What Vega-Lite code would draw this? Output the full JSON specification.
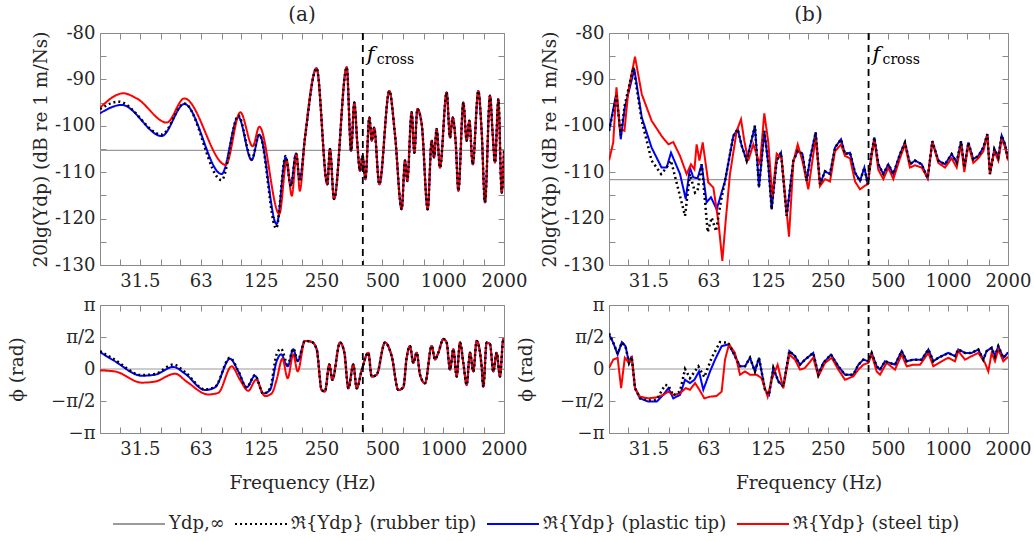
{
"$schema": "https://vega.github.io/schema/vega-lite/v6.json",
"padding": {"left": 7, "top": 4, "right": 2, "bottom": 2},
"config": {
  "font": "DejaVu Serif",
  "view": {"stroke": "#8a8a8a", "strokeWidth": 1},
  "axis": {"grid": false, "domain": false, "tickColor": "#8a8a8a", "tickWidth": 1, "tickSize": -6, "labelFont": "DejaVu Serif", "titleFont": "DejaVu Serif", "labelFontSize": 18, "labelColor": "#262626", "titleFontSize": 18.5, "titleColor": "#262626", "titleFontWeight": "normal", "labelFlush": false, "labelOverlap": false, "labelBound": false, "labelPadding": 13},
  "legend": {"labelFont": "DejaVu Serif", "labelFontSize": 18, "labelColor": "#262626", "labelLimit": 400, "symbolType": "stroke", "symbolSize": 2700, "symbolStrokeWidth": 2, "columnPadding": 6, "labelOffset": 3},
  "title": {"font": "DejaVu Serif", "fontSize": 20, "fontWeight": "normal", "color": "#262626", "offset": -1},
  "text": {"font": "DejaVu Serif"}
},
"datasets": {
  "hl": [{"p": "a", "v": -105.3}, {"p": "b", "v": -111.6}],
  "zero": [{"v": 0}],
  "fc": [{"f": 400, "v": -84.8}],
  "mag": [
    {"p":"a","s":"plastic","f":20,"v":-97.3},{"p":"a","s":"plastic","f":25.6,"v":-95.5},{"p":"a","s":"plastic","f":40.4,"v":-102.2},{"p":"a","s":"plastic","f":52.3,"v":-95.3},{"p":"a","s":"plastic","f":80,"v":-110.4},{"p":"a","s":"plastic","f":96.8,"v":-98.1},{"p":"a","s":"plastic","f":112.7,"v":-107.4},{"p":"a","s":"plastic","f":123,"v":-101.9},{"p":"a","s":"plastic","f":149.8,"v":-121.2},{"p":"a","s":"plastic","f":166,"v":-106.8},{"p":"a","s":"plastic","f":176,"v":-112.9},{"p":"a","s":"plastic","f":186.8,"v":-106},{"p":"a","s":"plastic","f":195,"v":-111.5},
    {"p":"a","s":"steel","f":20,"v":-96.1},{"p":"a","s":"steel","f":26.1,"v":-93},{"p":"a","s":"steel","f":30.4,"v":-94.1},{"p":"a","s":"steel","f":42.8,"v":-99.3},{"p":"a","s":"steel","f":52.3,"v":-94.1},{"p":"a","s":"steel","f":83.8,"v":-108.4},{"p":"a","s":"steel","f":99,"v":-97.1},{"p":"a","s":"steel","f":114,"v":-104.4},{"p":"a","s":"steel","f":123,"v":-100.2},{"p":"a","s":"steel","f":154.5,"v":-119},{"p":"a","s":"steel","f":168,"v":-107.4},{"p":"a","s":"steel","f":178,"v":-115.1},{"p":"a","s":"steel","f":188,"v":-106.1},{"p":"a","s":"steel","f":195,"v":-114},
    {"p":"a","s":"rubber","f":20,"v":-96.4},{"p":"a","s":"rubber","f":24.7,"v":-94.8},{"p":"a","s":"rubber","f":40.4,"v":-101.9},{"p":"a","s":"rubber","f":52.3,"v":-95.2},{"p":"a","s":"rubber","f":80,"v":-111.7},{"p":"a","s":"rubber","f":96.8,"v":-97.8},{"p":"a","s":"rubber","f":112.7,"v":-107.2},{"p":"a","s":"rubber","f":123,"v":-101.9},{"p":"a","s":"rubber","f":149,"v":-122.1},{"p":"a","s":"rubber","f":166,"v":-106.5},{"p":"a","s":"rubber","f":176,"v":-113},{"p":"a","s":"rubber","f":186.8,"v":-106},{"p":"a","s":"rubber","f":195,"v":-112},
    {"p":"a","s":"all","f":207,"v":-102.5},{"p":"a","s":"all","f":236,"v":-87.6},{"p":"a","s":"all","f":267,"v":-112.6},{"p":"a","s":"all","f":275,"v":-105},{"p":"a","s":"all","f":288,"v":-115.8},{"p":"a","s":"all","f":333,"v":-87.4},{"p":"a","s":"all","f":350,"v":-105.4},{"p":"a","s":"all","f":363,"v":-95},{"p":"a","s":"all","f":376,"v":-104},{"p":"a","s":"all","f":387,"v":-109.7},{"p":"a","s":"all","f":399,"v":-106.5},{"p":"a","s":"all","f":412,"v":-111.5},{"p":"a","s":"all","f":431,"v":-98.2},{"p":"a","s":"all","f":443,"v":-103.2},{"p":"a","s":"all","f":455,"v":-100.4},{"p":"a","s":"all","f":483,"v":-112.6},{"p":"a","s":"all","f":541,"v":-92.5},{"p":"a","s":"all","f":577,"v":-101.8},{"p":"a","s":"all","f":623,"v":-118},{"p":"a","s":"all","f":647,"v":-107.5},{"p":"a","s":"all","f":664,"v":-111.9},{"p":"a","s":"all","f":698,"v":-97.1},{"p":"a","s":"all","f":720,"v":-105.8},{"p":"a","s":"all","f":745,"v":-96.4},{"p":"a","s":"all","f":783,"v":-99.7},{"p":"a","s":"all","f":838,"v":-118},{"p":"a","s":"all","f":877,"v":-103.2},{"p":"a","s":"all","f":901,"v":-106.8},{"p":"a","s":"all","f":928,"v":-100.7},{"p":"a","s":"all","f":964,"v":-109},{"p":"a","s":"all","f":1040,"v":-92.8},{"p":"a","s":"all","f":1081,"v":-102.5},{"p":"a","s":"all","f":1114,"v":-98.2},{"p":"a","s":"all","f":1153,"v":-103.6},{"p":"a","s":"all","f":1189,"v":-114},{"p":"a","s":"all","f":1258,"v":-95},{"p":"a","s":"all","f":1307,"v":-103.2},{"p":"a","s":"all","f":1347,"v":-98.9},{"p":"a","s":"all","f":1400,"v":-108.3},{"p":"a","s":"all","f":1492,"v":-92.5},{"p":"a","s":"all","f":1550,"v":-101.1},{"p":"a","s":"all","f":1610,"v":-116.5},{"p":"a","s":"all","f":1705,"v":-93.5},{"p":"a","s":"all","f":1758,"v":-101.8},{"p":"a","s":"all","f":1805,"v":-107.9},{"p":"a","s":"all","f":1876,"v":-94.3},{"p":"a","s":"all","f":1948,"v":-114.4},{"p":"a","s":"all","f":2000,"v":-105.4},
    {"p":"b","s":"plastic","f":20,"v":-101.1},{"p":"b","s":"plastic","f":21.8,"v":-92.8},{"p":"b","s":"plastic","f":22.9,"v":-102.9},{"p":"b","s":"plastic","f":24,"v":-96.1},{"p":"b","s":"plastic","f":26.8,"v":-87.8},{"p":"b","s":"plastic","f":29.2,"v":-98.2},{"p":"b","s":"plastic","f":32.7,"v":-104.7},{"p":"b","s":"plastic","f":36.7,"v":-109},{"p":"b","s":"plastic","f":38.9,"v":-109},{"p":"b","s":"plastic","f":40.9,"v":-105.8},{"p":"b","s":"plastic","f":45.4,"v":-110.4},{"p":"b","s":"plastic","f":48.5,"v":-115.8},{"p":"b","s":"plastic","f":50.9,"v":-109},{"p":"b","s":"plastic","f":52.9,"v":-111.1},{"p":"b","s":"plastic","f":55.6,"v":-111.3},{"p":"b","s":"plastic","f":58.3,"v":-108.3},{"p":"b","s":"plastic","f":61.7,"v":-116.5},{"p":"b","s":"plastic","f":64.9,"v":-115.4},{"p":"b","s":"plastic","f":69.3,"v":-118},{"p":"b","s":"plastic","f":76.3,"v":-111.9},
    {"p":"b","s":"rubber","f":20,"v":-101.1},{"p":"b","s":"rubber","f":21.8,"v":-93.5},{"p":"b","s":"rubber","f":22.9,"v":-102},{"p":"b","s":"rubber","f":24,"v":-95.5},{"p":"b","s":"rubber","f":26.5,"v":-87.4},{"p":"b","s":"rubber","f":29.2,"v":-98.9},{"p":"b","s":"rubber","f":32.7,"v":-107.5},{"p":"b","s":"rubber","f":36.5,"v":-110.4},{"p":"b","s":"rubber","f":38.9,"v":-109},{"p":"b","s":"rubber","f":40.9,"v":-107.5},{"p":"b","s":"rubber","f":48.1,"v":-119.4},{"p":"b","s":"rubber","f":50.9,"v":-110.4},{"p":"b","s":"rubber","f":54,"v":-114.4},{"p":"b","s":"rubber","f":55.6,"v":-114},{"p":"b","s":"rubber","f":58.3,"v":-108.3},{"p":"b","s":"rubber","f":62.5,"v":-122.9},{"p":"b","s":"rubber","f":65.4,"v":-119.8},{"p":"b","s":"rubber","f":68.8,"v":-122.7},{"p":"b","s":"rubber","f":72.8,"v":-116.2},{"p":"b","s":"rubber","f":76.3,"v":-111.9},
    {"p":"b","s":"pr","f":84,"v":-102.2},{"p":"b","s":"pr","f":88.3,"v":-100.7},{"p":"b","s":"pr","f":92.5,"v":-104.3},{"p":"b","s":"pr","f":98,"v":-107.5},{"p":"b","s":"pr","f":107.8,"v":-100},{"p":"b","s":"pr","f":112.9,"v":-113.3},{"p":"b","s":"pr","f":120.1,"v":-101.1},{"p":"b","s":"pr","f":125.8,"v":-108.3},{"p":"b","s":"pr","f":130.7,"v":-118},{"p":"b","s":"pr","f":138.5,"v":-107.5},{"p":"b","s":"pr","f":145.6,"v":-105.8},{"p":"b","s":"pr","f":155.5,"v":-119.4},{"p":"b","s":"pr","f":168,"v":-107.5},{"p":"b","s":"pr","f":176.6,"v":-105.4},{"p":"b","s":"pr","f":186.3,"v":-106},{"p":"b","s":"pr","f":195.8,"v":-111.9},{"p":"b","s":"pr","f":203.5,"v":-107.2},{"p":"b","s":"pr","f":217.3,"v":-101.4},{"p":"b","s":"pr","f":228.4,"v":-112.6},{"p":"b","s":"pr","f":241.9,"v":-109.8},{"p":"b","s":"pr","f":256.4,"v":-110.4},{"p":"b","s":"pr","f":271.6,"v":-104.7},{"p":"b","s":"pr","f":291,"v":-102.9},{"p":"b","s":"pr","f":304.8,"v":-106.1},{"p":"b","s":"pr","f":323,"v":-105.8},{"p":"b","s":"pr","f":342.2,"v":-110.1},{"p":"b","s":"pr","f":362.5,"v":-111.9},{"p":"b","s":"pr","f":381,"v":-109},{"p":"b","s":"pr","f":396,"v":-112.6},{"p":"b","s":"pr","f":414.6,"v":-105.8},{"p":"b","s":"pr","f":427.6,"v":-102.5},{"p":"b","s":"pr","f":447.8,"v":-108.3},{"p":"b","s":"pr","f":474.4,"v":-110.4},{"p":"b","s":"pr","f":502.6,"v":-108.3},{"p":"b","s":"pr","f":532.4,"v":-110.4},{"p":"b","s":"pr","f":574.8,"v":-106.1},{"p":"b","s":"pr","f":609,"v":-103.6},{"p":"b","s":"pr","f":645,"v":-108.3},{"p":"b","s":"pr","f":683.6,"v":-107.5},{"p":"b","s":"pr","f":738.6,"v":-108.3},{"p":"b","s":"pr","f":791.4,"v":-111.3},{"p":"b","s":"pr","f":835,"v":-103.3},{"p":"b","s":"pr","f":895,"v":-107.5},{"p":"b","s":"pr","f":966.6,"v":-108.3},{"p":"b","s":"pr","f":1044,"v":-106.1},{"p":"b","s":"pr","f":1106,"v":-107.9},{"p":"b","s":"pr","f":1163,"v":-103.3},{"p":"b","s":"pr","f":1208,"v":-109},{"p":"b","s":"pr","f":1265,"v":-103.6},{"p":"b","s":"pr","f":1340,"v":-107.2},{"p":"b","s":"pr","f":1420,"v":-106.5},{"p":"b","s":"pr","f":1504,"v":-104.7},{"p":"b","s":"pr","f":1576,"v":-101.8},{"p":"b","s":"pr","f":1624,"v":-110.4},{"p":"b","s":"pr","f":1708,"v":-105},{"p":"b","s":"pr","f":1788,"v":-106.8},{"p":"b","s":"pr","f":1859,"v":-102.1},{"p":"b","s":"pr","f":1932,"v":-104},{"p":"b","s":"pr","f":2000,"v":-107.2},
    {"p":"b","s":"steel","f":20,"v":-107.5},{"p":"b","s":"steel","f":21,"v":-103.6},{"p":"b","s":"steel","f":21.8,"v":-91.7},{"p":"b","s":"steel","f":22.7,"v":-100.7},{"p":"b","s":"steel","f":23.9,"v":-101.1},{"p":"b","s":"steel","f":25,"v":-92.5},{"p":"b","s":"steel","f":27,"v":-85.1},{"p":"b","s":"steel","f":29.2,"v":-93.2},{"p":"b","s":"steel","f":32.7,"v":-98.9},{"p":"b","s":"steel","f":36.7,"v":-102.2},{"p":"b","s":"steel","f":39.7,"v":-104},{"p":"b","s":"steel","f":42,"v":-103.5},{"p":"b","s":"steel","f":45.4,"v":-106.5},{"p":"b","s":"steel","f":49,"v":-110.4},{"p":"b","s":"steel","f":51.5,"v":-108.3},{"p":"b","s":"steel","f":53.6,"v":-109.4},{"p":"b","s":"steel","f":55,"v":-104},{"p":"b","s":"steel","f":56.8,"v":-107.5},{"p":"b","s":"steel","f":59,"v":-103.6},{"p":"b","s":"steel","f":62.9,"v":-112.2},{"p":"b","s":"steel","f":66.7,"v":-113.3},{"p":"b","s":"steel","f":70.6,"v":-120.5},{"p":"b","s":"steel","f":74,"v":-129.1},{"p":"b","s":"steel","f":76.9,"v":-120.5},{"p":"b","s":"steel","f":80.8,"v":-110.4},{"p":"b","s":"steel","f":87.3,"v":-101.1},{"p":"b","s":"steel","f":91.8,"v":-98.6},{"p":"b","s":"steel","f":95.3,"v":-103.2},{"p":"b","s":"steel","f":99.8,"v":-107.5},{"p":"b","s":"steel","f":105.8,"v":-104},{"p":"b","s":"steel","f":114.2,"v":-108.3},{"p":"b","s":"steel","f":120.1,"v":-97.3},{"p":"b","s":"steel","f":125.8,"v":-103.6},{"p":"b","s":"steel","f":131.7,"v":-115.4},{"p":"b","s":"steel","f":138.5,"v":-106},{"p":"b","s":"steel","f":146.7,"v":-107},{"p":"b","s":"steel","f":159.7,"v":-123.9},{"p":"b","s":"steel","f":168,"v":-107.7},{"p":"b","s":"steel","f":176.6,"v":-104},{"p":"b","s":"steel","f":186.3,"v":-107.5},{"p":"b","s":"steel","f":199.6,"v":-113.7},{"p":"b","s":"steel","f":217.3,"v":-102.5},{"p":"b","s":"steel","f":228.4,"v":-113},{"p":"b","s":"steel","f":241.9,"v":-111.5},{"p":"b","s":"steel","f":256.4,"v":-112},{"p":"b","s":"steel","f":271.6,"v":-105.5},{"p":"b","s":"steel","f":291,"v":-104},{"p":"b","s":"steel","f":304.8,"v":-106.5},{"p":"b","s":"steel","f":323,"v":-107},{"p":"b","s":"steel","f":342.2,"v":-112},{"p":"b","s":"steel","f":362.5,"v":-113.7},{"p":"b","s":"steel","f":381,"v":-113},{"p":"b","s":"steel","f":396,"v":-112.6},{"p":"b","s":"steel","f":414.6,"v":-106.5},{"p":"b","s":"steel","f":427.6,"v":-103},{"p":"b","s":"steel","f":447.8,"v":-109.5},{"p":"b","s":"steel","f":474.4,"v":-111.5},{"p":"b","s":"steel","f":502.6,"v":-109},{"p":"b","s":"steel","f":532.4,"v":-111.5},{"p":"b","s":"steel","f":574.8,"v":-107},{"p":"b","s":"steel","f":609,"v":-104},{"p":"b","s":"steel","f":645,"v":-109},{"p":"b","s":"steel","f":683.6,"v":-108.5},{"p":"b","s":"steel","f":738.6,"v":-109},{"p":"b","s":"steel","f":791.4,"v":-111.3},{"p":"b","s":"steel","f":835,"v":-103.5},{"p":"b","s":"steel","f":895,"v":-108},{"p":"b","s":"steel","f":966.6,"v":-109},{"p":"b","s":"steel","f":1044,"v":-107},{"p":"b","s":"steel","f":1106,"v":-109},{"p":"b","s":"steel","f":1163,"v":-104},{"p":"b","s":"steel","f":1208,"v":-110},{"p":"b","s":"steel","f":1265,"v":-104},{"p":"b","s":"steel","f":1340,"v":-108},{"p":"b","s":"steel","f":1420,"v":-107},{"p":"b","s":"steel","f":1504,"v":-105.5},{"p":"b","s":"steel","f":1576,"v":-102},{"p":"b","s":"steel","f":1624,"v":-110.4},{"p":"b","s":"steel","f":1708,"v":-105.5},{"p":"b","s":"steel","f":1788,"v":-107.5},{"p":"b","s":"steel","f":1859,"v":-103},{"p":"b","s":"steel","f":1932,"v":-104.5},{"p":"b","s":"steel","f":2000,"v":-107.5}
  ],
  "ph": [
    {"p":"a","s":"plastic","f":20,"v":0.83},{"p":"a","s":"plastic","f":23.7,"v":0.38},{"p":"a","s":"plastic","f":32.2,"v":-0.33},{"p":"a","s":"plastic","f":37.4,"v":-0.28},{"p":"a","s":"plastic","f":46.1,"v":0.1},{"p":"a","s":"plastic","f":52.7,"v":-0.23},{"p":"a","s":"plastic","f":66.2,"v":-1.03},{"p":"a","s":"plastic","f":74.2,"v":-0.9},{"p":"a","s":"plastic","f":88,"v":0.5},{"p":"a","s":"plastic","f":96.8,"v":-0.12},{"p":"a","s":"plastic","f":106.4,"v":-0.9},{"p":"a","s":"plastic","f":117,"v":-0.33},{"p":"a","s":"plastic","f":128.7,"v":-1.2},{"p":"a","s":"plastic","f":138.9,"v":-1.03},{"p":"a","s":"plastic","f":149.8,"v":0.38},{"p":"a","s":"plastic","f":157.5,"v":0.72},{"p":"a","s":"plastic","f":169.9,"v":0.13},{"p":"a","s":"plastic","f":181.1,"v":0.97},{"p":"a","s":"plastic","f":190.3,"v":0.38},
    {"p":"a","s":"steel","f":20,"v":-0.07},{"p":"a","s":"steel","f":23.7,"v":-0.12},{"p":"a","s":"steel","f":32.2,"v":-0.67},{"p":"a","s":"steel","f":37.4,"v":-0.62},{"p":"a","s":"steel","f":47,"v":-0.23},{"p":"a","s":"steel","f":53.7,"v":-0.62},{"p":"a","s":"steel","f":68.7,"v":-1.25},{"p":"a","s":"steel","f":77,"v":-1.17},{"p":"a","s":"steel","f":89.7,"v":0.13},{"p":"a","s":"steel","f":98.6,"v":-0.53},{"p":"a","s":"steel","f":108.4,"v":-1.07},{"p":"a","s":"steel","f":118.4,"v":-0.53},{"p":"a","s":"steel","f":131.1,"v":-1.33},{"p":"a","s":"steel","f":141.6,"v":-1.2},{"p":"a","s":"steel","f":149.8,"v":-0.53},{"p":"a","s":"steel","f":159.9,"v":0.5},{"p":"a","s":"steel","f":169.9,"v":-0.45},{"p":"a","s":"steel","f":181.1,"v":0.72},{"p":"a","s":"steel","f":190.3,"v":-0.12},
    {"p":"a","s":"rubber","f":20,"v":0.88},{"p":"a","s":"rubber","f":23.7,"v":0.45},{"p":"a","s":"rubber","f":32.2,"v":-0.3},{"p":"a","s":"rubber","f":37.4,"v":-0.25},{"p":"a","s":"rubber","f":46.1,"v":0.22},{"p":"a","s":"rubber","f":52.7,"v":-0.15},{"p":"a","s":"rubber","f":66.2,"v":-1},{"p":"a","s":"rubber","f":74.2,"v":-0.88},{"p":"a","s":"rubber","f":88,"v":0.55},{"p":"a","s":"rubber","f":96.8,"v":-0.1},{"p":"a","s":"rubber","f":106.4,"v":-0.9},{"p":"a","s":"rubber","f":117,"v":-0.3},{"p":"a","s":"rubber","f":128.7,"v":-1.22},{"p":"a","s":"rubber","f":138.9,"v":-0.95},{"p":"a","s":"rubber","f":149.8,"v":0.72},{"p":"a","s":"rubber","f":157.5,"v":1.0},{"p":"a","s":"rubber","f":169.9,"v":0.22},{"p":"a","s":"rubber","f":181.1,"v":1.0},{"p":"a","s":"rubber","f":190.3,"v":0.42},
    {"p":"a","s":"all","f":207,"v":1.38},{"p":"a","s":"all","f":223.3,"v":1.33},{"p":"a","s":"all","f":236.4,"v":0.97},{"p":"a","s":"all","f":250.2,"v":-1.03},{"p":"a","s":"all","f":259.9,"v":-1.1},{"p":"a","s":"all","f":273,"v":0.22},{"p":"a","s":"all","f":282.6,"v":-0.53},{"p":"a","s":"all","f":308.4,"v":1.3},{"p":"a","s":"all","f":324.2,"v":0.8},{"p":"a","s":"all","f":339.3,"v":-0.95},{"p":"a","s":"all","f":359,"v":0.22},{"p":"a","s":"all","f":373,"v":-0.95},{"p":"a","s":"all","f":394.8,"v":-0.07},{"p":"a","s":"all","f":426,"v":0.8},{"p":"a","s":"all","f":442.6,"v":-0.37},{"p":"a","s":"all","f":468.5,"v":-0.28},{"p":"a","s":"all","f":515,"v":1.3},{"p":"a","s":"all","f":556,"v":0.63},{"p":"a","s":"all","f":599.7,"v":-1.03},{"p":"a","s":"all","f":634.7,"v":-0.9},{"p":"a","s":"all","f":659.4,"v":0.55},{"p":"a","s":"all","f":684.8,"v":1.13},{"p":"a","s":"all","f":711.5,"v":0.3},{"p":"a","s":"all","f":739,"v":0.8},{"p":"a","s":"all","f":767.8,"v":-0.28},{"p":"a","s":"all","f":813,"v":-0.7},{"p":"a","s":"all","f":877,"v":1.13},{"p":"a","s":"all","f":911,"v":0.47},{"p":"a","s":"all","f":946,"v":0.8},{"p":"a","s":"all","f":1002,"v":1.47},{"p":"a","s":"all","f":1040,"v":1.3},{"p":"a","s":"all","f":1081,"v":-0.03},{"p":"a","s":"all","f":1123,"v":0.97},{"p":"a","s":"all","f":1166,"v":-0.37},{"p":"a","s":"all","f":1211,"v":1.3},{"p":"a","s":"all","f":1258,"v":0.3},{"p":"a","s":"all","f":1307,"v":-0.78},{"p":"a","s":"all","f":1357,"v":0.8},{"p":"a","s":"all","f":1410,"v":-0.12},{"p":"a","s":"all","f":1464,"v":1.38},{"p":"a","s":"all","f":1550,"v":0.13},{"p":"a","s":"all","f":1580,"v":-0.87},{"p":"a","s":"all","f":1641,"v":1.3},{"p":"a","s":"all","f":1705,"v":1.22},{"p":"a","s":"all","f":1771,"v":-0.12},{"p":"a","s":"all","f":1839,"v":0.8},{"p":"a","s":"all","f":1910,"v":-0.37},{"p":"a","s":"all","f":1985,"v":1.47},{"p":"a","s":"all","f":2000,"v":1.4},
    {"p":"b","s":"plastic","f":20,"v":1.7},{"p":"b","s":"plastic","f":21,"v":1.29},{"p":"b","s":"plastic","f":22.1,"v":0.71},{"p":"b","s":"plastic","f":23.2,"v":1.32},{"p":"b","s":"plastic","f":24.2,"v":1.12},{"p":"b","s":"plastic","f":25.2,"v":0.3},{"p":"b","s":"plastic","f":26,"v":0.63},{"p":"b","s":"plastic","f":27,"v":-0.94},{"p":"b","s":"plastic","f":28.6,"v":-1.44},{"p":"b","s":"plastic","f":31.5,"v":-1.6},{"p":"b","s":"plastic","f":34.7,"v":-1.6},{"p":"b","s":"plastic","f":37.4,"v":-1.27},{"p":"b","s":"plastic","f":39.7,"v":-0.94},{"p":"b","s":"plastic","f":42,"v":-1.44},{"p":"b","s":"plastic","f":45.4,"v":-1.27},{"p":"b","s":"plastic","f":48.1,"v":-0.53},{"p":"b","s":"plastic","f":50.9,"v":-0.69},{"p":"b","s":"plastic","f":53.6,"v":-0.53},{"p":"b","s":"plastic","f":56.5,"v":-0.12},{"p":"b","s":"plastic","f":59.4,"v":-1.02},{"p":"b","s":"plastic","f":64.2,"v":-0.12},{"p":"b","s":"plastic","f":68,"v":0.46},{"p":"b","s":"plastic","f":73.4,"v":1.12},{"p":"b","s":"plastic","f":79.3,"v":1.21},{"p":"b","s":"plastic","f":84,"v":0.79},{"p":"b","s":"plastic","f":90.7,"v":0.13},
    {"p":"b","s":"rubber","f":20,"v":1.75},{"p":"b","s":"rubber","f":21,"v":1.3},{"p":"b","s":"rubber","f":22.1,"v":0.75},{"p":"b","s":"rubber","f":23.2,"v":1.3},{"p":"b","s":"rubber","f":24.2,"v":1.1},{"p":"b","s":"rubber","f":25.2,"v":0.3},{"p":"b","s":"rubber","f":26,"v":0.6},{"p":"b","s":"rubber","f":27,"v":-0.94},{"p":"b","s":"rubber","f":28.6,"v":-1.44},{"p":"b","s":"rubber","f":31.5,"v":-1.55},{"p":"b","s":"rubber","f":34.7,"v":-1.5},{"p":"b","s":"rubber","f":38.2,"v":-0.78},{"p":"b","s":"rubber","f":39.7,"v":-0.8},{"p":"b","s":"rubber","f":42,"v":-1.3},{"p":"b","s":"rubber","f":45.4,"v":-1.1},{"p":"b","s":"rubber","f":48.1,"v":0},{"p":"b","s":"rubber","f":50.9,"v":-0.45},{"p":"b","s":"rubber","f":56.1,"v":0.13},{"p":"b","s":"rubber","f":60.1,"v":-0.4},{"p":"b","s":"rubber","f":65.4,"v":0.55},{"p":"b","s":"rubber","f":72,"v":1.32},{"p":"b","s":"rubber","f":79.3,"v":1.29},{"p":"b","s":"rubber","f":84,"v":0.79},{"p":"b","s":"rubber","f":90.7,"v":0.13},
    {"p":"b","s":"pr","f":96.1,"v":0.13},{"p":"b","s":"pr","f":101.8,"v":0.55},{"p":"b","s":"pr","f":107.8,"v":-0.12},{"p":"b","s":"pr","f":112.9,"v":0.55},{"p":"b","s":"pr","f":121.1,"v":-1.02},{"p":"b","s":"pr","f":126.8,"v":-1.27},{"p":"b","s":"pr","f":133.3,"v":0.05},{"p":"b","s":"pr","f":141.2,"v":-0.61},{"p":"b","s":"pr","f":149.5,"v":-0.86},{"p":"b","s":"pr","f":160.3,"v":0.88},{"p":"b","s":"pr","f":171.1,"v":0.63},{"p":"b","s":"pr","f":181.3,"v":0.21},{"p":"b","s":"pr","f":192,"v":0.46},{"p":"b","s":"pr","f":211.3,"v":0.79},{"p":"b","s":"pr","f":224,"v":-0.28},{"p":"b","s":"pr","f":237.3,"v":0.3},{"p":"b","s":"pr","f":259.3,"v":0.71},{"p":"b","s":"pr","f":282.2,"v":0.13},{"p":"b","s":"pr","f":304.8,"v":-0.28},{"p":"b","s":"pr","f":335.5,"v":-0.28},{"p":"b","s":"pr","f":355.6,"v":0.21},{"p":"b","s":"pr","f":376.6,"v":0.46},{"p":"b","s":"pr","f":398.9,"v":0.38},{"p":"b","s":"pr","f":414.6,"v":0.79},{"p":"b","s":"pr","f":439.5,"v":0.13},{"p":"b","s":"pr","f":456.6,"v":-0.03},{"p":"b","s":"pr","f":483.6,"v":0.38},{"p":"b","s":"pr","f":542.8,"v":0.21},{"p":"b","s":"pr","f":586.2,"v":0.88},{"p":"b","s":"pr","f":620.9,"v":0.38},{"p":"b","s":"pr","f":670.7,"v":0.46},{"p":"b","s":"pr","f":738.6,"v":0.46},{"p":"b","s":"pr","f":797.9,"v":0.96},{"p":"b","s":"pr","f":845,"v":0.38},{"p":"b","s":"pr","f":895,"v":0.55},{"p":"b","s":"pr","f":1004,"v":0.79},{"p":"b","s":"pr","f":1085,"v":0.63},{"p":"b","s":"pr","f":1127,"v":0.96},{"p":"b","s":"pr","f":1217,"v":0.79},{"p":"b","s":"pr","f":1315,"v":0.79},{"p":"b","s":"pr","f":1420,"v":0.96},{"p":"b","s":"pr","f":1504,"v":0.46},{"p":"b","s":"pr","f":1563,"v":0.88},{"p":"b","s":"pr","f":1656,"v":1.04},{"p":"b","s":"pr","f":1721,"v":0.63},{"p":"b","s":"pr","f":1788,"v":1.12},{"p":"b","s":"pr","f":1895,"v":0.55},{"p":"b","s":"pr","f":2000,"v":0.8},
    {"p":"b","s":"steel","f":20,"v":0.05},{"p":"b","s":"steel","f":21,"v":0.46},{"p":"b","s":"steel","f":22.1,"v":0.55},{"p":"b","s":"steel","f":23,"v":-0.94},{"p":"b","s":"steel","f":24,"v":0.55},{"p":"b","s":"steel","f":25.2,"v":0.3},{"p":"b","s":"steel","f":26,"v":0.55},{"p":"b","s":"steel","f":27,"v":-0.94},{"p":"b","s":"steel","f":28.6,"v":-1.36},{"p":"b","s":"steel","f":31.5,"v":-1.44},{"p":"b","s":"steel","f":34.7,"v":-1.39},{"p":"b","s":"steel","f":37.4,"v":-1.27},{"p":"b","s":"steel","f":39.7,"v":-1.11},{"p":"b","s":"steel","f":42,"v":-1.27},{"p":"b","s":"steel","f":45.4,"v":-1.19},{"p":"b","s":"steel","f":48.5,"v":-0.94},{"p":"b","s":"steel","f":50.9,"v":-1.02},{"p":"b","s":"steel","f":54,"v":-0.69},{"p":"b","s":"steel","f":56.8,"v":-1.02},{"p":"b","s":"steel","f":60.1,"v":-1.44},{"p":"b","s":"steel","f":64.2,"v":-1.36},{"p":"b","s":"steel","f":69.3,"v":-1.32},{"p":"b","s":"steel","f":73.4,"v":-1.11},{"p":"b","s":"steel","f":76.3,"v":0.46},{"p":"b","s":"steel","f":79.9,"v":1.21},{"p":"b","s":"steel","f":85.6,"v":0.79},{"p":"b","s":"steel","f":90.7,"v":-0.28},{"p":"b","s":"steel","f":96.1,"v":-0.12},{"p":"b","s":"steel","f":101.8,"v":-0.28},{"p":"b","s":"steel","f":109.9,"v":-0.28},{"p":"b","s":"steel","f":116.4,"v":-0.45},{"p":"b","s":"steel","f":124.8,"v":-1.36},{"p":"b","s":"steel","f":130.7,"v":-0.53},{"p":"b","s":"steel","f":140.1,"v":0.21},{"p":"b","s":"steel","f":149.5,"v":-0.94},{"p":"b","s":"steel","f":160.3,"v":0.71},{"p":"b","s":"steel","f":171.1,"v":0.46},{"p":"b","s":"steel","f":181.3,"v":-0.03},{"p":"b","s":"steel","f":192,"v":0.05},{"p":"b","s":"steel","f":211.3,"v":0.55},{"p":"b","s":"steel","f":224,"v":-0.36},{"p":"b","s":"steel","f":241.9,"v":0.3},{"p":"b","s":"steel","f":261.3,"v":0.55},{"p":"b","s":"steel","f":282.2,"v":-0.03},{"p":"b","s":"steel","f":304.8,"v":-0.53},{"p":"b","s":"steel","f":335.5,"v":-0.36},{"p":"b","s":"steel","f":355.6,"v":-0.03},{"p":"b","s":"steel","f":376.6,"v":0.21},{"p":"b","s":"steel","f":398.9,"v":0.3},{"p":"b","s":"steel","f":414.6,"v":0.71},{"p":"b","s":"steel","f":439.5,"v":-0.12},{"p":"b","s":"steel","f":456.6,"v":-0.28},{"p":"b","s":"steel","f":492.9,"v":0.3},{"p":"b","s":"steel","f":542.8,"v":-0.03},{"p":"b","s":"steel","f":586.2,"v":0.71},{"p":"b","s":"steel","f":620.9,"v":0.13},{"p":"b","s":"steel","f":670.7,"v":0.21},{"p":"b","s":"steel","f":724.5,"v":0.21},{"p":"b","s":"steel","f":797.9,"v":0.79},{"p":"b","s":"steel","f":845,"v":0.13},{"p":"b","s":"steel","f":930.4,"v":0.38},{"p":"b","s":"steel","f":1004,"v":0.55},{"p":"b","s":"steel","f":1085,"v":0.38},{"p":"b","s":"steel","f":1127,"v":0.88},{"p":"b","s":"steel","f":1217,"v":0.46},{"p":"b","s":"steel","f":1315,"v":0.63},{"p":"b","s":"steel","f":1420,"v":0.79},{"p":"b","s":"steel","f":1533,"v":0.3},{"p":"b","s":"steel","f":1593,"v":-0.12},{"p":"b","s":"steel","f":1656,"v":0.79},{"p":"b","s":"steel","f":1721,"v":0.38},{"p":"b","s":"steel","f":1788,"v":0.96},{"p":"b","s":"steel","f":1895,"v":0.38},{"p":"b","s":"steel","f":2000,"v":0.6}
  ]
},
"bounds": "flush",
"columns": 2,
"spacing": {"row": 40, "column": 105},
"concat": [
  {"width": 404, "height": 232, "title": "(a)",
   "resolve": {"axis": {"x": "independent", "y": "independent"}},
   "layer": [
    {"data": {"name": "hl"}, "transform": [{"filter": "datum.p=='a'"}], "mark": {"type": "rule", "strokeWidth": 1.2},
     "encoding": {"y": {"field": "v", "type": "quantitative", "scale": {"domain": [-130, -80], "nice": false, "zero": false}, "axis": {"orient": "right", "values": [-130,-125,-120,-115,-110,-105,-100,-95,-90,-85,-80], "labels": false, "title": null}},
      "color": {"datum": "Ydp,∞", "scale": {"domain": ["Ydp,∞", "ℜ{Ydp} (rubber tip)", "ℜ{Ydp} (plastic tip)", "ℜ{Ydp} (steel tip)"], "range": ["#9a9a9a", "#000000", "#0000ff", "#ff0000"]}, "legend": {"title": null, "orient": "none", "direction": "horizontal", "legendX": 12, "legendY": 464}},
      "strokeDash": {"datum": "Ydp,∞", "scale": {"domain": ["Ydp,∞", "ℜ{Ydp} (rubber tip)", "ℜ{Ydp} (plastic tip)", "ℜ{Ydp} (steel tip)"], "range": [[1,0],[2,3],[1,0],[1,0]]}, "legend": {"title": null, "orient": "none", "direction": "horizontal", "legendX": 12, "legendY": 464}}}},
    {"data": {"name": "mag"}, "transform": [{"filter": "datum.p=='a' && (datum.s=='plastic' || datum.s=='all')"}], "mark": {"type": "line", "strokeWidth": 2, "interpolate": "monotone", "clip": true},
     "encoding": {"x": {"field": "f", "type": "quantitative", "scale": {"type": "log", "domain": [20, 2000], "nice": false}, "axis": {"orient": "bottom", "values": [20,25,31.5,40,50,63,80,100,125,160,200,250,315,400,500,630,800,1000,1250,1600,2000], "labelExpr": "(datum.value == 31.5 || datum.value == 63 || datum.value == 125 || datum.value == 250 || datum.value == 500 || datum.value == 1000 || datum.value == 2000) ? '' + datum.value : ''", "title": null}},
      "y": {"field": "v", "type": "quantitative", "scale": {"domain": [-130, -80], "nice": false, "zero": false}, "axis": {"orient": "left", "values": [-130,-125,-120,-115,-110,-105,-100,-95,-90,-85,-80], "labelExpr": "datum.value % 10 === 0 ? '' + datum.value : ''", "title": "20lg(Ydp)  (dB re 1 m/Ns)", "labelPadding": 11, "titlePadding": 4}},
      "color": {"datum": "ℜ{Ydp} (plastic tip)"}, "strokeDash": {"datum": "ℜ{Ydp} (plastic tip)"}}},
    {"data": {"name": "mag"}, "transform": [{"filter": "datum.p=='a' && (datum.s=='steel' || datum.s=='all')"}], "mark": {"type": "line", "strokeWidth": 2, "interpolate": "monotone", "clip": true},
     "encoding": {"x": {"field": "f", "type": "quantitative", "scale": {"type": "log", "domain": [20, 2000], "nice": false}, "axis": null},
      "y": {"field": "v", "type": "quantitative", "axis": null},
      "color": {"datum": "ℜ{Ydp} (steel tip)"}, "strokeDash": {"datum": "ℜ{Ydp} (steel tip)"}}},
    {"data": {"name": "mag"}, "transform": [{"filter": "datum.p=='a' && (datum.s=='rubber' || datum.s=='all')"}], "mark": {"type": "line", "strokeWidth": 2.5, "interpolate": "monotone", "clip": true},
     "encoding": {"x": {"field": "f", "type": "quantitative", "axis": null},
      "y": {"field": "v", "type": "quantitative", "axis": null},
      "color": {"datum": "ℜ{Ydp} (rubber tip)"}, "strokeDash": {"datum": "ℜ{Ydp} (rubber tip)"}}},
    {"data": {"name": "fc"}, "mark": {"type": "rule", "strokeDash": [7, 5], "strokeWidth": 1.8, "color": "#000000"},
     "encoding": {"x": {"field": "f", "type": "quantitative", "axis": {"orient": "top", "values": [20,25,31.5,40,50,63,80,100,125,160,200,250,315,400,500,630,800,1000,1250,1600,2000], "labels": false, "title": null}}}},
    {"data": {"name": "fc"}, "mark": {"type": "text", "text": "f", "fontStyle": "italic", "fontSize": 21, "align": "left", "baseline": "middle", "dx": 4, "color": "#000000"},
     "encoding": {"x": {"field": "f", "type": "quantitative", "axis": null}, "y": {"field": "v", "type": "quantitative", "axis": null}}},
    {"data": {"name": "fc"}, "mark": {"type": "text", "text": "cross", "fontSize": 14, "align": "left", "baseline": "middle", "dx": 14, "dy": 5, "color": "#000000"},
     "encoding": {"x": {"field": "f", "type": "quantitative", "axis": null}, "y": {"field": "v", "type": "quantitative", "axis": null}}}
   ]},
  {"width": 399, "height": 232, "title": "(b)",
   "resolve": {"axis": {"x": "independent", "y": "independent"}},
   "layer": [
    {"data": {"name": "hl"}, "transform": [{"filter": "datum.p=='b'"}], "mark": {"type": "rule", "strokeWidth": 1.2},
     "encoding": {"y": {"field": "v", "type": "quantitative", "scale": {"domain": [-130, -80], "nice": false, "zero": false}, "axis": {"orient": "right", "values": [-130,-125,-120,-115,-110,-105,-100,-95,-90,-85,-80], "labels": false, "title": null}},
      "color": {"datum": "Ydp,∞"}, "strokeDash": {"datum": "Ydp,∞"}}},
    {"data": {"name": "mag"}, "transform": [{"filter": "datum.p=='b' && (datum.s=='plastic' || datum.s=='pr')"}], "mark": {"type": "line", "strokeWidth": 2, "clip": true},
     "encoding": {"x": {"field": "f", "type": "quantitative", "scale": {"type": "log", "domain": [20, 2000], "nice": false}, "axis": {"orient": "bottom", "values": [20,25,31.5,40,50,63,80,100,125,160,200,250,315,400,500,630,800,1000,1250,1600,2000], "labelExpr": "(datum.value == 31.5 || datum.value == 63 || datum.value == 125 || datum.value == 250 || datum.value == 500 || datum.value == 1000 || datum.value == 2000) ? '' + datum.value : ''", "title": null}},
      "y": {"field": "v", "type": "quantitative", "scale": {"domain": [-130, -80], "nice": false, "zero": false}, "axis": {"orient": "left", "values": [-130,-125,-120,-115,-110,-105,-100,-95,-90,-85,-80], "labelExpr": "datum.value % 10 === 0 ? '' + datum.value : ''", "title": "20lg(Ydp)  (dB re 1 m/Ns)", "labelPadding": 11, "titlePadding": 4}},
      "color": {"datum": "ℜ{Ydp} (plastic tip)"}, "strokeDash": {"datum": "ℜ{Ydp} (plastic tip)"}}},
    {"data": {"name": "mag"}, "transform": [{"filter": "datum.p=='b' && datum.s=='steel'"}], "mark": {"type": "line", "strokeWidth": 2, "clip": true},
     "encoding": {"x": {"field": "f", "type": "quantitative", "axis": null}, "y": {"field": "v", "type": "quantitative", "axis": null},
      "color": {"datum": "ℜ{Ydp} (steel tip)"}, "strokeDash": {"datum": "ℜ{Ydp} (steel tip)"}}},
    {"data": {"name": "mag"}, "transform": [{"filter": "datum.p=='b' && (datum.s=='rubber' || datum.s=='pr')"}], "mark": {"type": "line", "strokeWidth": 2.5, "clip": true},
     "encoding": {"x": {"field": "f", "type": "quantitative", "axis": null}, "y": {"field": "v", "type": "quantitative", "axis": null},
      "color": {"datum": "ℜ{Ydp} (rubber tip)"}, "strokeDash": {"datum": "ℜ{Ydp} (rubber tip)"}}},
    {"data": {"name": "fc"}, "mark": {"type": "rule", "strokeDash": [7, 5], "strokeWidth": 1.8, "color": "#000000"},
     "encoding": {"x": {"field": "f", "type": "quantitative", "axis": {"orient": "top", "values": [20,25,31.5,40,50,63,80,100,125,160,200,250,315,400,500,630,800,1000,1250,1600,2000], "labels": false, "title": null}}}},
    {"data": {"name": "fc"}, "mark": {"type": "text", "text": "f", "fontStyle": "italic", "fontSize": 21, "align": "left", "baseline": "middle", "dx": 4, "color": "#000000"},
     "encoding": {"x": {"field": "f", "type": "quantitative", "axis": null}, "y": {"field": "v", "type": "quantitative", "axis": null}}},
    {"data": {"name": "fc"}, "mark": {"type": "text", "text": "cross", "fontSize": 14, "align": "left", "baseline": "middle", "dx": 14, "dy": 5, "color": "#000000"},
     "encoding": {"x": {"field": "f", "type": "quantitative", "axis": null}, "y": {"field": "v", "type": "quantitative", "axis": null}}}
   ]},
  {"width": 404, "height": 128,
   "resolve": {"axis": {"x": "independent", "y": "independent"}},
   "layer": [
    {"data": {"name": "zero"}, "mark": {"type": "rule", "strokeWidth": 1.2},
     "encoding": {"y": {"field": "v", "type": "quantitative", "scale": {"domain": [-3.14159265, 3.14159265], "nice": false, "zero": false}, "axis": {"orient": "right", "values": [-3.14159265,-1.57079633,0,1.57079633,3.14159265], "labels": false, "title": null}},
      "color": {"datum": "Ydp,∞"}, "strokeDash": {"datum": "Ydp,∞"}}},
    {"data": {"name": "ph"}, "transform": [{"filter": "datum.p=='a' && (datum.s=='plastic' || datum.s=='all')"}], "mark": {"type": "line", "strokeWidth": 2, "interpolate": "monotone", "clip": true},
     "encoding": {"x": {"field": "f", "type": "quantitative", "scale": {"type": "log", "domain": [20, 2000], "nice": false}, "axis": {"orient": "bottom", "values": [20,25,31.5,40,50,63,80,100,125,160,200,250,315,400,500,630,800,1000,1250,1600,2000], "labelExpr": "(datum.value == 31.5 || datum.value == 63 || datum.value == 125 || datum.value == 250 || datum.value == 500 || datum.value == 1000 || datum.value == 2000) ? '' + datum.value : ''", "title": "Frequency (Hz)", "titlePadding": 15}},
      "y": {"field": "v", "type": "quantitative", "scale": {"domain": [-3.14159265, 3.14159265], "nice": false, "zero": false}, "axis": {"orient": "left", "values": [-3.14159265,-1.57079633,0,1.57079633,3.14159265], "labelExpr": "datum.value > 3 ? 'π' : datum.value > 1 ? 'π/2' : datum.value > -1 ? '0' : datum.value > -3 ? '−π/2' : '−π'", "title": "ϕ (rad)", "labelPadding": 11, "titlePadding": 24}},
      "color": {"datum": "ℜ{Ydp} (plastic tip)"}, "strokeDash": {"datum": "ℜ{Ydp} (plastic tip)"}}},
    {"data": {"name": "ph"}, "transform": [{"filter": "datum.p=='a' && (datum.s=='steel' || datum.s=='all')"}], "mark": {"type": "line", "strokeWidth": 2, "interpolate": "monotone", "clip": true},
     "encoding": {"x": {"field": "f", "type": "quantitative", "axis": null}, "y": {"field": "v", "type": "quantitative", "axis": null},
      "color": {"datum": "ℜ{Ydp} (steel tip)"}, "strokeDash": {"datum": "ℜ{Ydp} (steel tip)"}}},
    {"data": {"name": "ph"}, "transform": [{"filter": "datum.p=='a' && (datum.s=='rubber' || datum.s=='all')"}], "mark": {"type": "line", "strokeWidth": 2.5, "interpolate": "monotone", "clip": true},
     "encoding": {"x": {"field": "f", "type": "quantitative", "axis": null}, "y": {"field": "v", "type": "quantitative", "axis": null},
      "color": {"datum": "ℜ{Ydp} (rubber tip)"}, "strokeDash": {"datum": "ℜ{Ydp} (rubber tip)"}}},
    {"data": {"name": "fc"}, "mark": {"type": "rule", "strokeDash": [7, 5], "strokeWidth": 1.8, "color": "#000000"},
     "encoding": {"x": {"field": "f", "type": "quantitative", "axis": {"orient": "top", "values": [20,25,31.5,40,50,63,80,100,125,160,200,250,315,400,500,630,800,1000,1250,1600,2000], "labels": false, "title": null}}}}
   ]},
  {"width": 399, "height": 128,
   "resolve": {"axis": {"x": "independent", "y": "independent"}},
   "layer": [
    {"data": {"name": "zero"}, "mark": {"type": "rule", "strokeWidth": 1.2},
     "encoding": {"y": {"field": "v", "type": "quantitative", "scale": {"domain": [-3.14159265, 3.14159265], "nice": false, "zero": false}, "axis": {"orient": "right", "values": [-3.14159265,-1.57079633,0,1.57079633,3.14159265], "labels": false, "title": null}},
      "color": {"datum": "Ydp,∞"}, "strokeDash": {"datum": "Ydp,∞"}}},
    {"data": {"name": "ph"}, "transform": [{"filter": "datum.p=='b' && (datum.s=='plastic' || datum.s=='pr')"}], "mark": {"type": "line", "strokeWidth": 2, "clip": true},
     "encoding": {"x": {"field": "f", "type": "quantitative", "scale": {"type": "log", "domain": [20, 2000], "nice": false}, "axis": {"orient": "bottom", "values": [20,25,31.5,40,50,63,80,100,125,160,200,250,315,400,500,630,800,1000,1250,1600,2000], "labelExpr": "(datum.value == 31.5 || datum.value == 63 || datum.value == 125 || datum.value == 250 || datum.value == 500 || datum.value == 1000 || datum.value == 2000) ? '' + datum.value : ''", "title": "Frequency (Hz)", "titlePadding": 15}},
      "y": {"field": "v", "type": "quantitative", "scale": {"domain": [-3.14159265, 3.14159265], "nice": false, "zero": false}, "axis": {"orient": "left", "values": [-3.14159265,-1.57079633,0,1.57079633,3.14159265], "labelExpr": "datum.value > 3 ? 'π' : datum.value > 1 ? 'π/2' : datum.value > -1 ? '0' : datum.value > -3 ? '−π/2' : '−π'", "title": "ϕ (rad)", "labelPadding": 11, "titlePadding": 24}},
      "color": {"datum": "ℜ{Ydp} (plastic tip)"}, "strokeDash": {"datum": "ℜ{Ydp} (plastic tip)"}}},
    {"data": {"name": "ph"}, "transform": [{"filter": "datum.p=='b' && datum.s=='steel'"}], "mark": {"type": "line", "strokeWidth": 2, "clip": true},
     "encoding": {"x": {"field": "f", "type": "quantitative", "axis": null}, "y": {"field": "v", "type": "quantitative", "axis": null},
      "color": {"datum": "ℜ{Ydp} (steel tip)"}, "strokeDash": {"datum": "ℜ{Ydp} (steel tip)"}}},
    {"data": {"name": "ph"}, "transform": [{"filter": "datum.p=='b' && (datum.s=='rubber' || datum.s=='pr')"}], "mark": {"type": "line", "strokeWidth": 2.5, "clip": true},
     "encoding": {"x": {"field": "f", "type": "quantitative", "axis": null}, "y": {"field": "v", "type": "quantitative", "axis": null},
      "color": {"datum": "ℜ{Ydp} (rubber tip)"}, "strokeDash": {"datum": "ℜ{Ydp} (rubber tip)"}}},
    {"data": {"name": "fc"}, "mark": {"type": "rule", "strokeDash": [7, 5], "strokeWidth": 1.8, "color": "#000000"},
     "encoding": {"x": {"field": "f", "type": "quantitative", "axis": {"orient": "top", "values": [20,25,31.5,40,50,63,80,100,125,160,200,250,315,400,500,630,800,1000,1250,1600,2000], "labels": false, "title": null}}}}
   ]}
]
}
